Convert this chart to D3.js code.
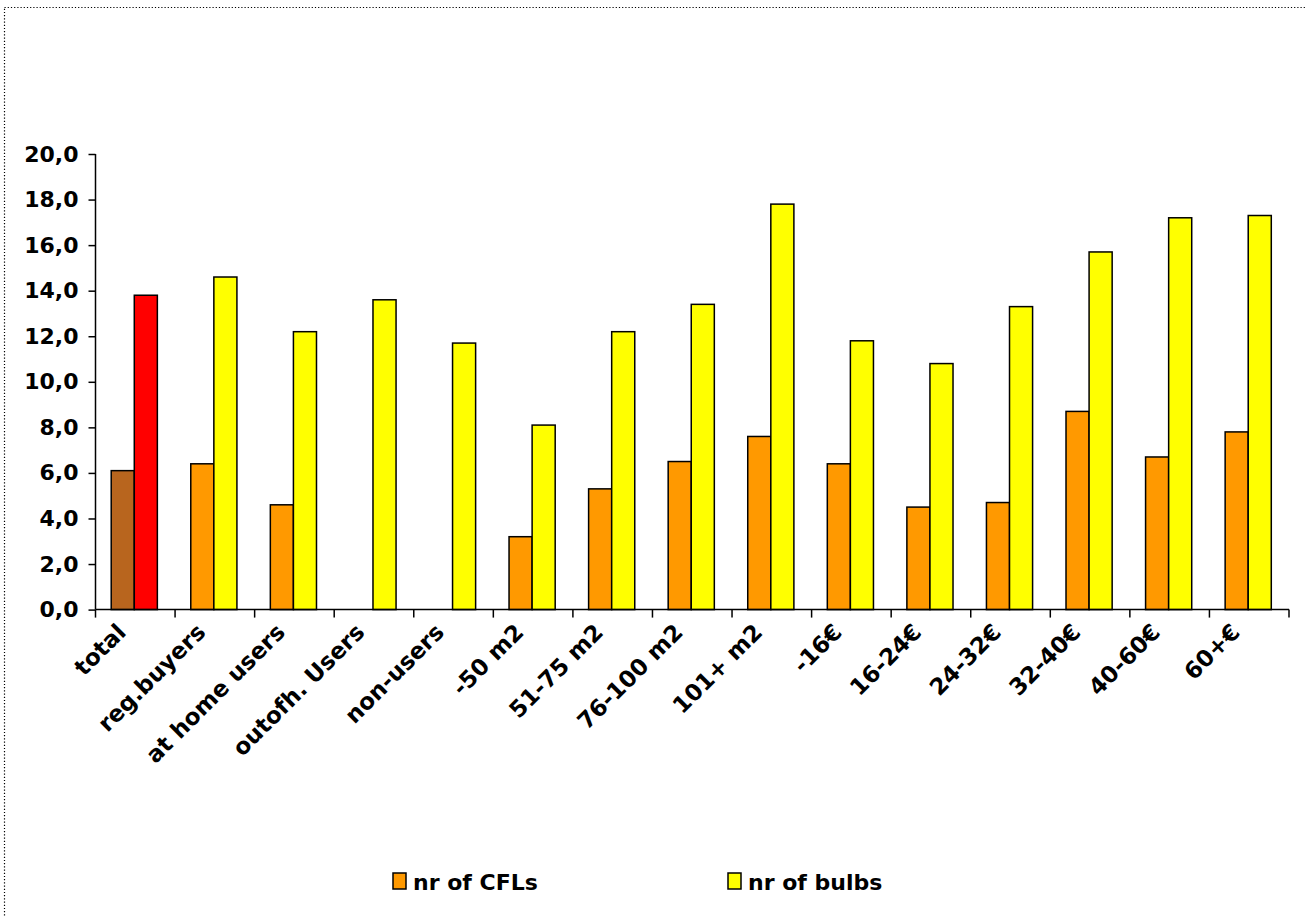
<!DOCTYPE html>
<html>
<head>
<meta charset="utf-8">
<script src="https://d3js.org/d3.v7.min.js"></script>
<style>
  body { margin: 0; background: #fff; }
  svg text { font-family: "DejaVu Sans", Verdana, sans-serif; font-weight: bold; }
</style>
</head>
<body>
<svg id="chart" width="1305" height="917"></svg>
<script>
var categories = ["total","reg.buyers","at home users","outofh. Users","non-users","-50 m2","51-75 m2","76-100 m2","101+ m2","-16€","16-24€","24-32€","32-40€","40-60€","60+€"];
var cfls  = [6.1, 6.4, 4.6, null, null, 3.2, 5.3, 6.5, 7.6, 6.4, 4.5, 4.7, 8.7, 6.7, 7.8];
var bulbs = [13.8, 14.6, 12.2, 13.6, 11.7, 8.1, 12.2, 13.4, 17.8, 11.8, 10.8, 13.3, 15.7, 17.2, 17.3];
var yTicks = [0, 2, 4, 6, 8, 10, 12, 14, 16, 18, 20];
var seriesNames = ["nr of CFLs", "nr of bulbs"];
var seriesColors = ["#ff9900", "#ffff00"];
var totalColors = ["#b8651e", "#ff0000"];

var svg = d3.select("#chart");

// dotted frame (right and bottom edges fall outside the picture)
svg.append("rect")
  .attr("x", 4.5).attr("y", 7.5)
  .attr("width", 1310).attr("height", 920)
  .attr("fill", "none").attr("stroke", "#000")
  .attr("stroke-width", 1.2).attr("stroke-dasharray", "1.2,2");

var plotL = 95.5, plotR = 1289, plotT = 154, plotB = 609.6;

var x = d3.scaleBand().domain(categories).range([plotL, plotR]).paddingInner(0).paddingOuter(0);
var y = d3.scaleLinear().domain([0, 20]).range([plotB, plotT]);
var barW = x.bandwidth() * 0.29;
var groupOff = (x.bandwidth() - 2 * barW) / 2 - 1;

var rows = categories.map(function(c, i) { return {cat: c, i: i, vals: [cfls[i], bulbs[i]]}; });

var g = svg.append("g");
rows.forEach(function(r) {
  r.vals.forEach(function(v, s) {
    if (v == null) return;
    g.append("rect")
      .attr("x", x(r.cat) + groupOff + s * barW)
      .attr("y", y(v))
      .attr("width", barW)
      .attr("height", y(0) - y(v))
      .attr("fill", r.i == 0 ? totalColors[s] : seriesColors[s])
      .attr("stroke", "#000").attr("stroke-width", 1.5);
  });
});

// y axis
var yAxis = d3.axisLeft(y).tickValues(yTicks).tickSize(7).tickPadding(10)
  .tickFormat(function(d) { return d3.format(".1f")(d).replace(".", ","); });
var ya = svg.append("g").attr("transform", "translate(" + plotL + ",0)").call(yAxis);
ya.select(".domain").attr("stroke", "#000").attr("stroke-width", 1.5).attr("d", "M0," + plotT + "V" + plotB);
ya.selectAll(".tick line").attr("stroke", "#000").attr("stroke-width", 1.5);
ya.selectAll("text").attr("font-size", 22).attr("fill", "#000").attr("font-family", "DejaVu Sans, Verdana, sans-serif");

// x axis with ticks at band boundaries
var xa = svg.append("g").attr("transform", "translate(0," + plotB + ")");
xa.append("line").attr("x1", plotL).attr("x2", plotR).attr("stroke", "#000").attr("stroke-width", 1.5);
categories.concat([null]).forEach(function(c) {
  var xx = c == null ? plotR : x(c);
  xa.append("line").attr("x1", xx).attr("x2", xx).attr("y1", 0).attr("y2", 8)
    .attr("stroke", "#000").attr("stroke-width", 1.5);
});
xa.selectAll("text.lbl").data(categories).enter().append("text")
  .attr("class", "lbl")
  .attr("text-anchor", "end")
  .attr("font-size", 23)
  .attr("transform", function(d) { return "translate(" + (x(d) + x.bandwidth() / 2 - 8) + ",24) rotate(-45)"; })
  .text(function(d) { return d; });

// legend
var legX = [393, 728];
seriesNames.forEach(function(n, s) {
  svg.append("rect").attr("x", legX[s]).attr("y", 873).attr("width", 13).attr("height", 16)
    .attr("fill", seriesColors[s]).attr("stroke", "#000").attr("stroke-width", 1.5);
  svg.append("text").attr("x", legX[s] + 20).attr("y", 890).attr("font-size", 22).text(n);
});
</script>
</body>
</html>
